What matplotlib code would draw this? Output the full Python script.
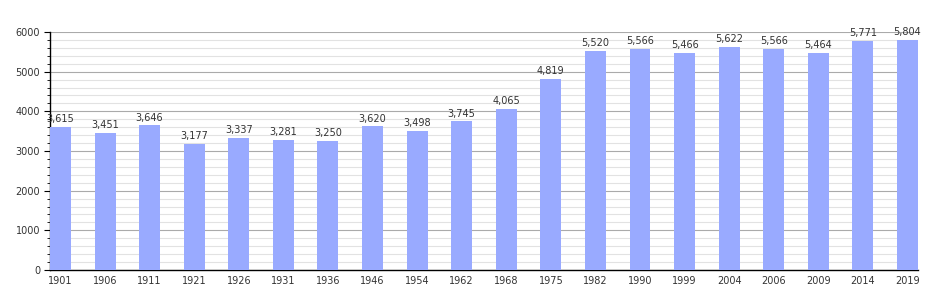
import matplotlib
matplotlib.use("Agg")
import matplotlib.pyplot as plt
from matplotlib.ticker import MultipleLocator

years = ["1901", "1906", "1911", "1921", "1926", "1931", "1936", "1946", "1954", "1962",
         "1968", "1975", "1982", "1990", "1999", "2004", "2006", "2009", "2014", "2019"]
population = [3615, 3451, 3646, 3177, 3337, 3281, 3250, 3620, 3498, 3745,
              4065, 4819, 5520, 5566, 5466, 5622, 5566, 5464, 5771, 5804]

fig = plt.figure(figsize=(9.5, 3.0), dpi=100)
ax = fig.add_axes([0.0526, 0.1, 0.9137, 0.7933])

x = list(range(len(years)))
w = 0.47
ax.bar(x, population, width=w, color="#99aaff", zorder=3)

for xi, v in zip(x, population):
    ax.annotate(f"{v:,}", (xi, v), xytext=(0, 2), textcoords="offset points",
                ha="center", va="bottom", fontsize=7, color="#333333", zorder=4)

ax.set_xlim(-w / 2, len(years) - 1 + w / 2)
ax.set_ylim(0, 6000)
ax.set_xticks(x)
ax.set_xticklabels(years)
ax.yaxis.set_major_locator(MultipleLocator(1000))
ax.yaxis.set_minor_locator(MultipleLocator(200))
ax.grid(axis="y", which="major", color="#aaaaaa", linewidth=0.8, zorder=1)
ax.grid(axis="y", which="minor", color="#e2e2e2", linewidth=0.8, zorder=0)
ax.set_axisbelow(True)

for s in ["top", "right"]:
    ax.spines[s].set_visible(False)
ax.spines["left"].set_color("black")
ax.spines["bottom"].set_color("black")
ax.spines["left"].set_linewidth(1.0)
ax.spines["bottom"].set_linewidth(1.0)

ax.tick_params(axis="x", length=0, labelsize=7, labelcolor="#333333", pad=4)
ax.tick_params(axis="y", which="major", length=4, labelsize=7, labelcolor="#333333", pad=3)
ax.tick_params(axis="y", which="minor", length=2)

fig.savefig("out.png", dpi=100)
